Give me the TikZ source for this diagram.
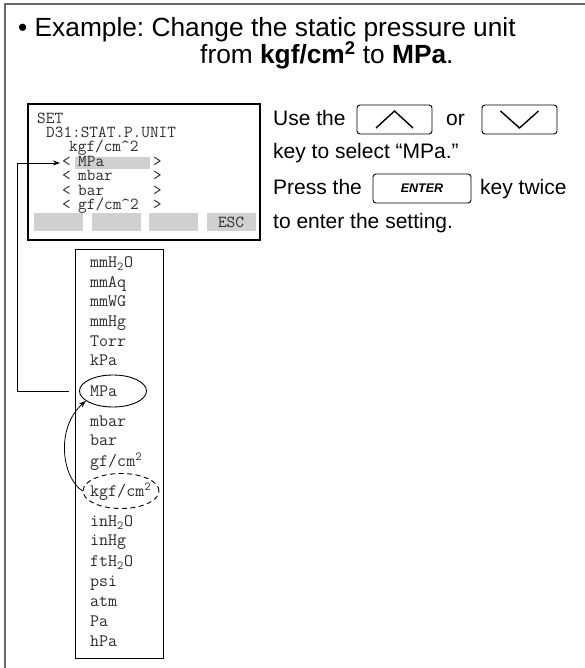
\documentclass[tikz,border=0pt]{standalone}
\usepackage{fontspec}
\setmainfont{Liberation Sans}
\usetikzlibrary{shapes.geometric, arrows.meta, positioning, calc}
\definecolor{cFrame}{RGB}{105,105,105}
\definecolor{cLcd}{RGB}{208,208,208}
\definecolor{cMono}{RGB}{45,45,45}
\tikzset{
	lcdtxt/.style   ={anchor=base west, inner sep=0pt, text height=9pt, text depth=2pt, font=\fontsize{16.8}{16.8}\ttfamily, text=cMono},
	unititem/.style ={anchor=base west, inner sep=0pt, text height=10pt, text depth=2pt, font=\fontsize{17.5}{17.5}\ttfamily, text=cMono},
	softkey/.style  ={rectangle, fill=cLcd, draw=none, minimum width=49pt, minimum height=18pt, inner sep=0pt},
	keybox/.style   ={rectangle, draw=black, rounded corners=3pt, line width=0.9pt, minimum height=29pt, inner sep=0pt},
	bodytxt/.style  ={anchor=base west, inner sep=0pt, font=\fontsize{21}{21}\selectfont},
	titletxt/.style ={anchor=base west, inner sep=0pt, font=\fontsize{26.3}{26.3}\selectfont},
	selring/.style  ={ellipse, draw=black, line width=0.9pt, inner sep=0pt},
	selarrow/.style ={-{Stealth[length=7pt, width=5pt]}, line width=0.9pt},
}
\frenchspacing

\begin{document}
\begin{tikzpicture}[x=1pt, y=-1pt]
	\useasboundingbox (0,0) rectangle (584,668);
	% frame
	\draw[cFrame, line width=1.5pt] (5,680) -- (5,4) -- (600,4);
	% title
	\node[titletxt] (title1) at (18,37) {• Example: Change the static pressure unit};
	\node[titletxt, text height=18pt] (title2) at (200,64) {from \textbf{kgf/cm\textsuperscript{2}} to \textbf{MPa}.};
	% LCD screen
	\node[draw=black, line width=1.2pt, minimum width=232pt, minimum height=136pt, inner sep=0pt] (lcd) at (144,172) {};
	\node[fill=cLcd, minimum width=75pt, minimum height=12pt, inner sep=0pt] (hilite) at (112.5,163) {};
	\node[lcdtxt] (lcdSet) at (37,123.5) {SET};
	\node[lcdtxt] (lcdPar) at (46,138) {D31:STAT.P.UNIT};
	\node[lcdtxt] (lcdCur) at (69,152) {kgf/cm\^{}2};
	\foreach \nm/\y/\txt in {Lt/166.5/MPa, Lb/181/mbar, Lc/195.5/bar, Ld/210/{gf/cm\^{}2}}{
		\node[lcdtxt] (lcd\nm) at (62,\y) {<};
		\node[lcdtxt] (lcd\nm u) at (78,\y) {\txt};
		\node[lcdtxt] (lcd\nm r) at (153,\y) {>};
	}
	\foreach \i/\x in {1/58.5, 2/116, 3/173.5, 4/231}
		\node[softkey] (sk\i) at (\x,222) {};
	\node[font=\fontsize{16.8}{16.8}\ttfamily, text=cMono, inner sep=0pt] (esc) at (sk4) {ESC};
	% key instructions
	\node[bodytxt] (useThe) at (273,126) {Use the};
	\node[keybox, minimum width=75pt] (upKey) at (394.5,119.5) {};
	\draw[line width=1.4pt] (upKey.center) ++(-18.5,8.5) -- ++(18.5,-17) -- ++(18.5,17);
	\node[bodytxt] (orTxt) at (446,126) {or};
	\node[keybox, minimum width=75pt] (downKey) at (519.5,119.5) {};
	\draw[line width=1.4pt] (downKey.center) ++(-19,-8.5) -- ++(19,17) -- ++(19,-17);
	\node[bodytxt] (selTxt) at (273,159) {key to select “MPa.”};
	\node[bodytxt] (pressThe) at (273,194) {Press the};
	\node[keybox, minimum width=98pt, font=\fontsize{12.5}{12.5}\bfseries\itshape] (enterKey) at (422,188.5) {ENTER};
	\node[bodytxt] (twice) at (480,194) {key twice};
	\node[bodytxt] (enterTxt) at (273,228) {to enter the setting.};
	% unit list
	\node[draw=black, line width=1pt, minimum width=88pt, minimum height=409pt, inner sep=0pt] (ulist) at (119,453.5) {};
	\foreach \i/\y/\txt in {1/267.5/{mmH\textsubscript{2}O}, 2/287.5/mmAq, 3/306.5/mmWG, 4/326.5/mmHg,
		5/346.5/Torr, 6/365.5/kPa, 7/396.5/MPa, 8/426.5/mbar, 9/445.5/bar,
		10/466.5/{gf/cm\textsuperscript{2}}, 11/496.5/{kgf/cm\textsuperscript{2}}, 12/526.5/{inH\textsubscript{2}O},
		13/545.5/inHg, 14/566.5/{ftH\textsubscript{2}O}, 15/586.5/psi, 16/606.5/atm, 17/626.5/Pa, 18/646.5/hPa}
		\node[unititem] (u\i) at (90,\y) {\txt};
	\node[selring, minimum width=67pt, minimum height=32pt] (mpaSel) at (113,391) {};
	\node[selring, dash pattern=on 5pt off 3.5pt, minimum width=76pt, minimum height=35pt] (kgfSel) at (121,491) {};
	% connectors
	\coordinate (rail) at (17,0);
	\draw[selarrow] ([xshift=-10pt]mpaSel.west) -- (rail |- mpaSel.west) -- (rail |- lcdLt.west) -- ([xshift=-2pt]lcdLt.west);
	\draw[selarrow, line width=0.8pt] (kgfSel.west) .. controls (62,478) and (55,428) .. (mpaSel.200);
\end{tikzpicture}
\end{document}
